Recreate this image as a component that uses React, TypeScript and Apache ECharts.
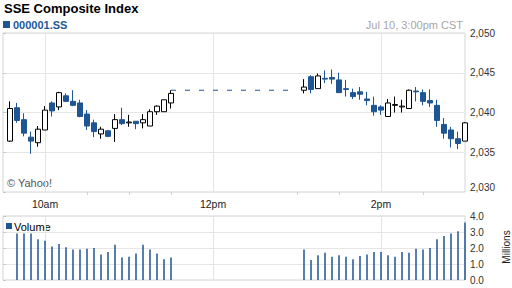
import React, { useEffect, useRef } from "react";
import * as echarts from "echarts";

const TITLE = "SSE Composite Index";
const SYMBOL = "000001.SS";
const TIMESTAMP = "Jul 10, 3:00pm CST";
const COPYRIGHT = "© Yahoo!";
const VOLUME_LABEL = "Volume";
const VOLUME_UNIT = "Millions";

// Session: 9:30 -> 15:00, x in minutes after 9:30
const SESSION_START = "09:30";
const SESSION_END = "15:00";
const TIME_TICKS = ["10:00", "12:00", "14:00"];
const TIME_LABELS = ["10am", "12pm", "2pm"];
const MINOR_TICKS = ["10:30", "11:00", "11:30", "13:00", "13:30", "14:30"];

const TIMES = [
  "09:35", "09:40", "09:45", "09:50", "09:55", "10:00", "10:05", "10:10",
  "10:15", "10:20", "10:25", "10:30", "10:35", "10:40", "10:45", "10:50",
  "10:55", "11:00", "11:05", "11:10", "11:15", "11:20", "11:25", "11:30",
  "13:05", "13:10", "13:15", "13:20", "13:25", "13:30", "13:35", "13:40",
  "13:45", "13:50", "13:55", "14:00", "14:05", "14:10", "14:15", "14:20",
  "14:25", "14:30", "14:35", "14:40", "14:45", "14:50", "14:55", "15:00",
];

// [open, close, low, high]
const OHLC = [
  [2036.4, 2040.5, 2036.3, 2041.4],
  [2040.6, 2039.0, 2038.7, 2041.2],
  [2039.1, 2037.4, 2037.0, 2039.9],
  [2036.9, 2036.4, 2034.8, 2037.6],
  [2036.2, 2037.9, 2035.7, 2038.3],
  [2037.8, 2040.3, 2037.8, 2040.8],
  [2041.2, 2040.2, 2039.5, 2041.4],
  [2040.7, 2042.5, 2040.3, 2042.6],
  [2042.1, 2041.4, 2041.3, 2042.4],
  [2041.4, 2040.9, 2040.8, 2042.8],
  [2041.2, 2039.5, 2039.4, 2041.6],
  [2039.8, 2038.3, 2037.8, 2040.3],
  [2038.7, 2037.6, 2036.9, 2039.1],
  [2037.3, 2037.9, 2036.7, 2038.2],
  [2037.7, 2037.0, 2036.9, 2037.8],
  [2038.0, 2039.1, 2036.3, 2039.8],
  [2039.1, 2038.6, 2038.4, 2040.6],
  [2038.7, 2038.8, 2038.2, 2039.7],
  [2038.9, 2038.6, 2037.9, 2038.9],
  [2038.7, 2039.1, 2038.0, 2039.8],
  [2038.3, 2040.1, 2038.3, 2040.4],
  [2040.1, 2040.8, 2039.7, 2040.9],
  [2040.1, 2041.6, 2040.1, 2041.6],
  [2041.2, 2042.4, 2040.5, 2042.8],
  [2042.8, 2043.2, 2042.4, 2044.2],
  [2044.5, 2042.9, 2042.4, 2044.7],
  [2043.0, 2044.6, 2043.0, 2044.9],
  [2044.3, 2044.2, 2043.7, 2045.3],
  [2044.4, 2044.2, 2043.6, 2045.4],
  [2044.1, 2042.5, 2042.5, 2045.0],
  [2043.0, 2042.9, 2042.0, 2044.1],
  [2042.5, 2042.0, 2041.7, 2043.0],
  [2042.6, 2042.3, 2041.6, 2043.2],
  [2041.7, 2041.5, 2040.9, 2042.6],
  [2040.9, 2040.1, 2039.6, 2042.0],
  [2040.7, 2040.3, 2039.7, 2040.9],
  [2039.5, 2041.2, 2039.5, 2041.7],
  [2040.9, 2041.0, 2040.0, 2042.0],
  [2040.7, 2040.8, 2040.0, 2041.6],
  [2040.5, 2042.8, 2040.5, 2042.9],
  [2042.7, 2042.6, 2041.4, 2043.2],
  [2042.5, 2041.4, 2040.9, 2042.9],
  [2041.5, 2041.2, 2040.7, 2042.9],
  [2040.9, 2039.0, 2038.2, 2041.6],
  [2038.5, 2037.4, 2036.7, 2039.3],
  [2037.8, 2036.7, 2035.6, 2038.2],
  [2036.7, 2036.1, 2035.4, 2037.6],
  [2036.4, 2038.7, 2036.4, 2038.8],
];

// Millions of shares
const VOLUME = [
  null, 2.9, 2.9, 2.9, 2.55, 2.45, 2.1, 2.25, 2.05, 1.9, 1.9, 1.95,
  2.0, 1.6, 1.75, 2.2, 1.4, 1.45, 1.65, 2.2, 1.9, 1.65, 1.3, 1.4,
  1.9, 1.25, 1.55, 1.7, 1.45, 1.55, 1.45, 1.3, 1.5, 1.6, 1.75, 1.75,
  1.55, 1.45, 1.75, 1.7, 1.95, 1.9, 2.0, 2.55, 2.75, 2.9, 3.05, 3.6,
];

// Lunch break carry-over line
const LUNCH_TIMES = ["11:30", "13:00"];
const LUNCH_PRICE = 2042.8;

const PRICE_MIN = 2030;
const PRICE_MAX = 2050;
const PRICE_STEP = 5;
const VOL_MIN = 0;
const VOL_MAX = 4;
const VOL_STEP = 1;

const BLUE = "#1f5592";
const FONT = '"Liberation Sans", Arial, Helvetica, sans-serif';

const toMin = (t: string) => {
  const [h, m] = t.split(":").map(Number);
  const [h0, m0] = SESSION_START.split(":").map(Number);
  return h * 60 + m - (h0 * 60 + m0);
};

export default function App() {
  const ref = useRef<HTMLDivElement>(null);

  useEffect(() => {
    if (!ref.current) return;
    const chart = echarts.init(ref.current, undefined, { renderer: "svg" });

    const xMax = toMin(SESSION_END);
    const majors = TIME_TICKS.map(toMin);
    const minors = MINOR_TICKS.map(toMin);

    const candleData = TIMES.map((t, i) => [toMin(t), ...OHLC[i]]);
    const volData = TIMES.map((t, i) => [toMin(t), VOLUME[i]]).filter((d) => d[1] != null);
    const lunchData = LUNCH_TIMES.map((t) => [toMin(t), LUNCH_PRICE]);

    const vGrid = { show: true, lineStyle: { color: "#dfe4ee", width: 1 } };

    chart.setOption({
      animation: false,
      backgroundColor: "#ffffff",
      textStyle: { fontFamily: FONT },
      grid: [
        { left: 3, top: 33, width: 462, height: 159, show: true, borderColor: "#d4d4d4", borderWidth: 1 },
        { left: 3, top: 216, width: 462, height: 64, show: true, borderColor: "#d4d4d4", borderWidth: 1 },
      ],
      xAxis: [
        {
          gridIndex: 0,
          type: "value",
          position: "bottom",
          min: 0,
          max: xMax,
          axisLine: { show: false },
          axisTick: { show: false, customValues: majors },
          axisLabel: {
            customValues: majors,
            margin: 6,
            fontSize: 10.5,
            color: "#222",
            fontFamily: FONT,
            formatter: (v: number) => {
              const i = majors.indexOf(v);
              return i >= 0 ? TIME_LABELS[i] : "";
            },
          },
          splitLine: vGrid,
        },
        {
          gridIndex: 0,
          type: "value",
          position: "bottom",
          min: 0,
          max: xMax,
          axisLine: { show: false },
          axisTick: { show: true, customValues: minors, length: 3, lineStyle: { color: "#cfcfcf" } },
          axisLabel: { show: false },
          splitLine: { show: false },
        },
        {
          gridIndex: 1,
          type: "value",
          position: "top",
          min: 0,
          max: xMax,
          axisLine: { show: false },
          axisTick: { show: true, customValues: majors, length: 6, lineStyle: { color: "#dfe4ee" } },
          axisLabel: { show: false },
          splitLine: vGrid,
        },
      ],
      yAxis: [
        {
          gridIndex: 0,
          type: "value",
          position: "right",
          min: PRICE_MIN,
          max: PRICE_MAX,
          interval: PRICE_STEP,
          axisLine: { show: false },
          axisTick: { show: true, length: 3, lineStyle: { color: "#c8c8c8" } },
          axisLabel: {
            margin: 5,
            fontSize: 10,
            color: "#333",
            fontFamily: FONT,
            verticalAlignMinLabel: "bottom",
            formatter: (v: number) => v.toLocaleString("en-US"),
          },
          splitLine: { show: true, lineStyle: { color: "#e6e6e6" } },
        },
        {
          gridIndex: 1,
          type: "value",
          position: "right",
          min: VOL_MIN,
          max: VOL_MAX,
          interval: VOL_STEP,
          axisLine: { show: false },
          axisTick: { show: true, length: 3, lineStyle: { color: "#c8c8c8" } },
          axisLabel: {
            margin: 5,
            fontSize: 10,
            color: "#333",
            fontFamily: FONT,
            formatter: (v: number) => v.toFixed(1),
          },
          splitLine: { show: true, lineStyle: { color: "#e6e6e6" } },
        },
      ],
      series: [
        {
          type: "candlestick",
          xAxisIndex: 0,
          yAxisIndex: 0,
          barWidth: 5,
          data: candleData,
          itemStyle: {
            color: "#ffffff",
            color0: BLUE,
            borderColor: "#000000",
            borderColor0: BLUE,
            borderWidth: 1,
          },
        },
        {
          type: "line",
          xAxisIndex: 0,
          yAxisIndex: 0,
          data: lunchData,
          symbol: "none",
          lineStyle: { color: BLUE, width: 1, type: [5, 9] },
        },
        {
          type: "bar",
          xAxisIndex: 2,
          yAxisIndex: 1,
          data: volData,
          barWidth: 1.5,
          itemStyle: { color: BLUE },
        },
      ],
      graphic: [
        {
          type: "text",
          x: 4,
          y: 8.5,
          style: { text: TITLE, font: `bold 13px ${FONT}`, fill: "#000", verticalAlign: "middle" },
        },
        { type: "rect", shape: { x: 3, y: 21, width: 7, height: 7 }, style: { fill: BLUE } },
        {
          type: "text",
          x: 13,
          y: 24.5,
          style: { text: SYMBOL, font: `bold 11px ${FONT}`, fill: "#1e5896", verticalAlign: "middle" },
        },
        {
          type: "text",
          x: 463,
          y: 25,
          style: { text: TIMESTAMP, font: `11px ${FONT}`, fill: "#a6a6a6", align: "right", verticalAlign: "middle" },
        },
        {
          type: "text",
          x: 7,
          y: 183,
          style: { text: COPYRIGHT, font: `11px ${FONT}`, fill: "#555", verticalAlign: "middle" },
        },
        { type: "rect", shape: { x: 6, y: 223, width: 6, height: 6 }, style: { fill: BLUE } },
        {
          type: "text",
          x: 14,
          y: 226.5,
          style: { text: VOLUME_LABEL, font: `11px ${FONT}`, fill: "#000", verticalAlign: "middle" },
        },
        {
          type: "text",
          x: 506,
          y: 247,
          rotation: Math.PI / 2,
          style: { text: VOLUME_UNIT, font: `10px ${FONT}`, fill: "#222", align: "center", verticalAlign: "middle" },
        },
      ],
    });

    return () => chart.dispose();
  }, []);

  return (
    <div
      ref={ref}
      style={{ position: "absolute", left: 0, top: 0, width: 512, height: 288, background: "#fff" }}
    />
  );
}
